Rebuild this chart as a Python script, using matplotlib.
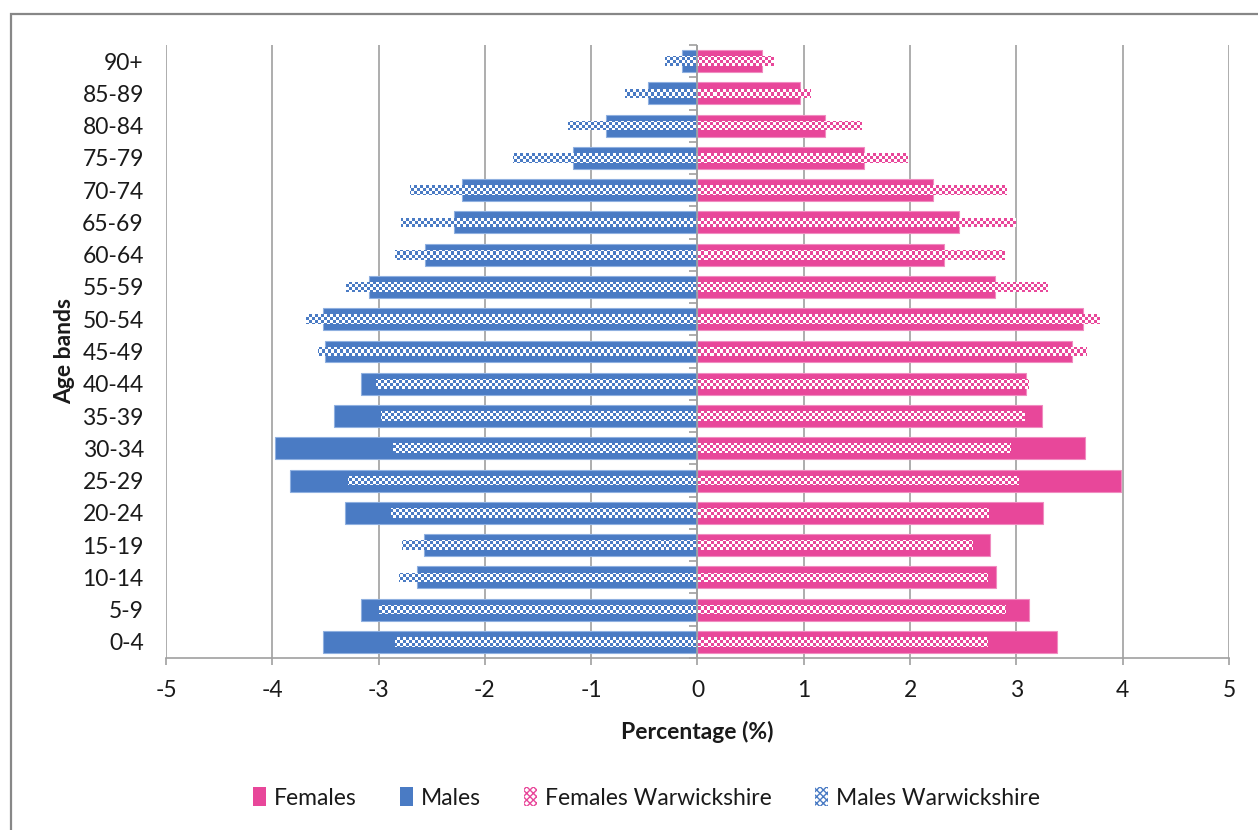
import numpy as np
import matplotlib.pyplot as plt
from matplotlib.patches import Rectangle, Patch

plt.rcParams['font.family'] = ['Lato', 'DejaVu Sans']
plt.rcParams['axes.unicode_minus'] = False

age_bands = ['0-4', '5-9', '10-14', '15-19', '20-24', '25-29', '30-34', '35-39',
             '40-44', '45-49', '50-54', '55-59', '60-64', '65-69', '70-74',
             '75-79', '80-84', '85-89', '90+']
males = [-3.52, -3.17, -2.64, -2.57, -3.32, -3.83, -3.97, -3.42, -3.17, -3.50,
         -3.52, -3.09, -2.56, -2.29, -2.22, -1.17, -0.86, -0.47, -0.15]
females = [3.38, 3.12, 2.81, 2.75, 3.25, 3.98, 3.65, 3.24, 3.09, 3.52,
           3.63, 2.80, 2.32, 2.46, 2.22, 1.57, 1.20, 0.96, 0.61]
males_warks = [-2.85, -3.00, -2.81, -2.78, -2.88, -3.29, -2.86, -2.98, -3.02, -3.57,
               -3.68, -3.31, -2.85, -2.79, -2.70, -1.74, -1.22, -0.68, -0.31]
females_warks = [2.73, 2.90, 2.73, 2.59, 2.74, 3.02, 2.95, 3.08, 3.12, 3.66,
                 3.79, 3.30, 2.89, 3.00, 2.91, 1.98, 1.55, 1.07, 0.72]

pink = '#E8479A'
blue = '#4A7BC4'
grid_grey = '#A0A0A0'
text_col = '#1A1A1A'
fsize = 16.5

fig = plt.figure(figsize=(12.58, 8.3), dpi=100)
ax = fig.add_axes([166 / 1258, 172 / 830, 1063 / 1258, 613 / 830])

y = np.arange(len(age_bands))
ax.barh(y, females, height=0.68, color=pink, edgecolor='#F08CC0', linewidth=0.8, zorder=2)
ax.barh(y, males, height=0.68, color=blue, edgecolor='#8FB0E0', linewidth=0.8, zorder=2)

ax.set_xlim(-5, 5)
ax.set_ylim(-0.5, len(age_bands) - 0.5)


def checker(rgb, w, h, cell=3):
    # small two-colour check pattern, one cell = `cell` screen pixels
    nx, ny = int(w // cell) + 1, int(h // cell) + 1
    ii, jj = np.meshgrid(np.arange(nx), np.arange(ny))
    mask = (ii + jj) % 2 == 0
    img = np.ones((ny, nx, 3))
    img[mask] = rgb
    return img


ax_w, ax_h = 1063, 613
for vals, col in [(females_warks, pink), (males_warks, blue)]:
    bars = ax.barh(y, vals, height=0.3, facecolor='none', edgecolor='none', zorder=3)
    img = checker(np.array(plt.matplotlib.colors.to_rgb(col)), ax_w, ax_h)
    for rect in bars:
        im = ax.imshow(img, extent=(-5, 5, -0.5, len(age_bands) - 0.5), aspect='auto',
                       interpolation='nearest', zorder=3)
        im.set_clip_path(rect)

ax.set_xlim(-5, 5)
ax.set_ylim(-0.5, len(age_bands) - 0.5)

# vertical gridlines and the category axis at zero
ax.set_xticks(range(-5, 6))
ax.grid(axis='x', color=grid_grey, linewidth=1.2, zorder=0)
ax.set_axisbelow(True)
ax.axvline(0, color=grid_grey, linewidth=1.2, zorder=4)
ax.plot([0] * (len(age_bands) + 1), np.arange(len(age_bands) + 1) - 0.5, ls='none',
        marker=0, markersize=6, markeredgewidth=1.2, color=grid_grey, zorder=4,
        clip_on=False)

for side in ['left', 'right', 'top']:
    ax.spines[side].set_visible(False)
ax.spines['bottom'].set_color(grid_grey)
ax.spines['bottom'].set_linewidth(1.2)

ax.set_yticks(y)
ax.set_yticklabels(age_bands)
ax.tick_params(axis='y', length=0, pad=16, labelsize=fsize, labelcolor=text_col)
ax.tick_params(axis='x', length=5, width=1.2, color=grid_grey, pad=11,
               labelsize=fsize, labelcolor=text_col)

ax.set_xlabel('Percentage (%)', fontsize=fsize, fontweight='bold', color=text_col, labelpad=14)
ax.set_ylabel('Age bands', fontsize=fsize, fontweight='bold', color=text_col, labelpad=5)

handles = [
    Patch(facecolor=pink, edgecolor='none', label='Females'),
    Patch(facecolor=blue, edgecolor='none', label='Males'),
    Patch(facecolor='white', edgecolor=pink, hatch='xxxxx', linewidth=0, label='Females Warwickshire'),
    Patch(facecolor='white', edgecolor=blue, hatch='xxxxx', linewidth=0, label='Males Warwickshire'),
]
fig.legend(handles=handles, loc='center', bbox_to_anchor=(0.514, 32 / 830), ncol=4,
           frameon=False, fontsize=fsize, handlelength=0.55, handleheight=0.9,
           handletextpad=0.35, columnspacing=1.9, labelcolor=text_col)

# outer chart frame
fig.patches.append(Rectangle((11 / 1258, -0.05), 1.1, 1.05 - 14 / 830,
                             transform=fig.transFigure, fill=False,
                             edgecolor='#878787', linewidth=1.6))

fig.savefig('out.png', dpi=100)
